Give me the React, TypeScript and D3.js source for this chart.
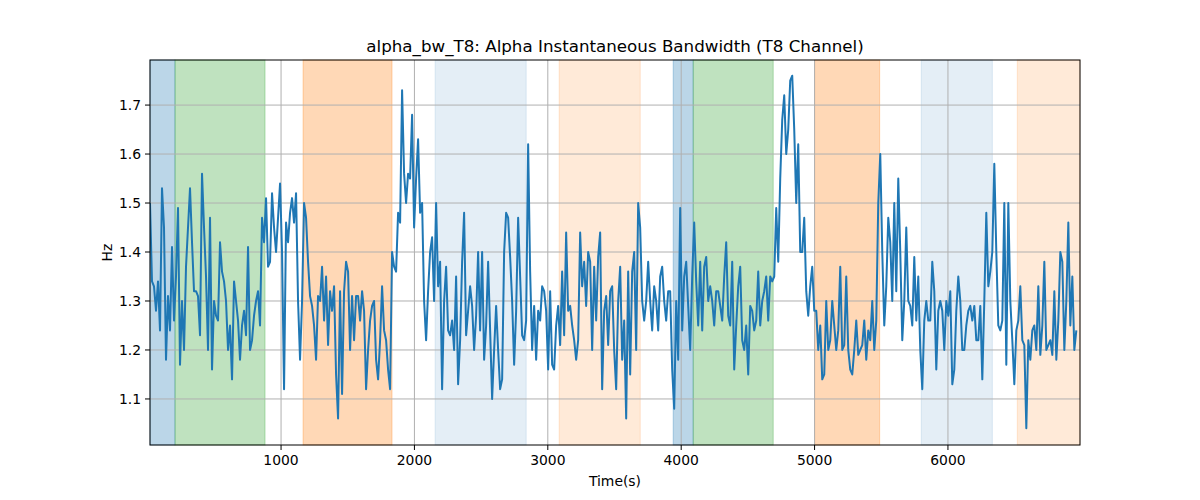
import * as d3 from "d3";

const startTime = 17.5;
const stepSeconds = 15;

// alpha bandwidth, one reading every 15 s
const bandwidth: number[] = [
  1.5, 1.34, 1.33, 1.28, 1.34, 1.24, 1.53, 1.45, 1.18, 1.31, 1.24, 1.41, 1.26, 1.35, 1.49, 1.17, 1.3, 1.2, 1.37, 1.45,
  1.53, 1.42, 1.32, 1.32, 1.31, 1.23, 1.56, 1.45, 1.35, 1.2, 1.47, 1.16, 1.3, 1.27, 1.26, 1.42, 1.36, 1.34, 1.3, 1.2,
  1.25, 1.14, 1.34, 1.3, 1.26, 1.18, 1.25, 1.28, 1.23, 1.41, 1.2, 1.22, 1.27, 1.3, 1.32, 1.25, 1.47, 1.42, 1.51, 1.37,
  1.38, 1.52, 1.45, 1.4, 1.47, 1.54, 1.4, 1.12, 1.46, 1.42, 1.48, 1.51, 1.46, 1.52, 1.3, 1.18, 1.3, 1.5, 1.47, 1.38,
  1.31, 1.29, 1.25, 1.18, 1.31, 1.3, 1.37, 1.26, 1.35, 1.21, 1.32, 1.28, 1.33, 1.15, 1.06, 1.32, 1.11, 1.32, 1.38, 1.36,
  1.2, 1.31, 1.22, 1.31, 1.31, 1.26, 1.32, 1.28, 1.12, 1.2, 1.26, 1.29, 1.3, 1.18, 1.14, 1.22, 1.33, 1.24, 1.22, 1.16,
  1.12,
  1.4, 1.37, 1.36, 1.48, 1.46, 1.73, 1.56, 1.5, 1.56, 1.55, 1.68, 1.45, 1.55, 1.63, 1.48, 1.5, 1.3, 1.22, 1.32, 1.4,
  1.43, 1.3, 1.5, 1.33, 1.38, 1.12, 1.3, 1.37, 1.24, 1.23, 1.26, 1.2, 1.35, 1.13, 1.22, 1.38, 1.48, 1.23, 1.28, 1.33,
  1.29, 1.2, 1.27, 1.4, 1.24, 1.4, 1.18, 1.25, 1.38, 1.24, 1.1, 1.2, 1.29, 1.2, 1.12, 1.14, 1.4, 1.48, 1.47, 1.39,
  1.3, 1.17, 1.28, 1.47, 1.35, 1.23, 1.22, 1.26, 1.62, 1.36, 1.2, 1.29, 1.18, 1.28, 1.26, 1.33, 1.32, 1.28, 1.16, 1.32,
  1.17, 1.16, 1.25, 1.29, 1.21, 1.36, 1.23, 1.44, 1.28, 1.29, 1.25, 1.22, 1.18, 1.22, 1.44, 1.33, 1.38, 1.29, 1.4, 1.38,
  1.2, 1.37, 1.26, 1.39, 1.44, 1.12, 1.28, 1.31, 1.21, 1.32, 1.33, 1.2, 1.12, 1.3, 1.37,
  1.18, 1.26, 1.06, 1.36, 1.15, 1.36, 1.4, 1.2, 1.5, 1.45, 1.3, 1.26, 1.3, 1.38, 1.3, 1.24, 1.33, 1.3, 1.24, 1.35,
  1.37, 1.3, 1.26, 1.32, 1.32, 1.16, 1.08, 1.3, 1.18, 1.49, 1.24, 1.35, 1.38, 1.29, 1.2, 1.35, 1.46, 1.34, 1.25, 1.38,
  1.24, 1.37, 1.39, 1.3, 1.33, 1.3, 1.25, 1.32, 1.32, 1.29, 1.26, 1.35, 1.42, 1.27, 1.25, 1.38, 1.16, 1.25, 1.33, 1.37,
  1.22, 1.2, 1.25, 1.15, 1.29, 1.28, 1.24, 1.26, 1.36, 1.25, 1.3, 1.32, 1.35, 1.26, 1.35, 1.34, 1.35, 1.49, 1.38, 1.55,
  1.67, 1.72, 1.6, 1.65, 1.75, 1.76, 1.65, 1.5, 1.62, 1.4, 1.4, 1.47, 1.32, 1.27, 1.33, 1.37, 1.28, 1.28, 1.2, 1.25,
  1.14, 1.15, 1.3, 1.2, 1.22, 1.3, 1.25, 1.2, 1.24, 1.37, 1.2, 1.21, 1.35, 1.2, 1.16, 1.15, 1.2,
  1.26, 1.19, 1.2, 1.21, 1.26, 1.18, 1.24, 1.22, 1.3, 1.2, 1.26, 1.5, 1.6, 1.4, 1.25, 1.33, 1.47, 1.42, 1.3, 1.5,
  1.32, 1.55, 1.4, 1.22, 1.3, 1.45, 1.3, 1.29, 1.25, 1.39, 1.26, 1.35, 1.2, 1.12, 1.26, 1.3, 1.26, 1.26, 1.38, 1.32,
  1.16, 1.28, 1.3, 1.28, 1.2, 1.3, 1.27, 1.32, 1.13, 1.16, 1.28, 1.35, 1.3, 1.2, 1.2, 1.25, 1.28, 1.29, 1.26, 1.29,
  1.22, 1.22, 1.29, 1.14, 1.3, 1.48, 1.33, 1.36, 1.4, 1.58, 1.4, 1.25, 1.24, 1.26, 1.5, 1.17, 1.5, 1.3, 1.22, 1.13,
  1.24, 1.26, 1.33, 1.22, 1.21, 1.04, 1.22, 1.18, 1.24, 1.25, 1.2, 1.33, 1.19, 1.25, 1.38, 1.2, 1.21, 1.22, 1.19, 1.32,
  1.18, 1.26, 1.4, 1.38, 1.2, 1.3, 1.46, 1.25, 1.35, 1.2, 1.24,
];

// shaded segments: start, end (s) and colour/opacity
const spanStart = [17.5, 205, 1165, 2155, 3085, 3940, 4090, 5000, 5800, 6520];
const spanEnd = [205, 880, 1832, 2838, 3693, 4090, 4690, 5488, 6333, 6990];
const spanColor = ["#1f77b4", "#2ca02c", "#ff7f0e", "#1f77b4", "#ff7f0e", "#1f77b4", "#2ca02c", "#ff7f0e", "#1f77b4", "#ff7f0e"];
const spanAlpha = [0.3, 0.3, 0.3, 0.12, 0.16, 0.3, 0.3, 0.3, 0.12, 0.16];

const xTicks = [1000, 2000, 3000, 4000, 5000, 6000];
const yTicks = [1.1, 1.2, 1.3, 1.4, 1.5, 1.6, 1.7];

export default function App() {
  const width = 1200;
  const height = 500;
  const margin = { top: 60, right: 120, bottom: 55, left: 150 };
  const innerWidth = width - margin.left - margin.right;
  const innerHeight = height - margin.top - margin.bottom;
  const font = "DejaVu Sans, sans-serif";

  const times = bandwidth.map((_, i) => startTime + i * stepSeconds);
  const x = d3.scaleLinear().domain([17.5, 6990]).range([0, innerWidth]);
  const y = d3.scaleLinear().domain([1.006, 1.792]).range([innerHeight, 0]);
  const line = d3
    .line<number>()
    .x((_, i) => x(times[i]))
    .y((d) => y(d));

  return (
    <div style={{ position: "absolute", left: 0, top: 0 }}>
      <svg width={width} height={height} style={{ display: "block", background: "#fff" }} fontFamily={font}>
        <text x={margin.left + innerWidth / 2} y={52} fontSize={16.7} textAnchor="middle" fill="#000">
          alpha_bw_T8: Alpha Instantaneous Bandwidth (T8 Channel)
        </text>
        <g transform={`translate(${margin.left},${margin.top})`}>
          <defs>
            <clipPath id="plot-clip">
              <rect width={innerWidth} height={innerHeight} />
            </clipPath>
          </defs>
          {spanStart.map((s, i) => (
            <rect
              key={`span-${i}`}
              x={x(s)}
              y={0}
              width={x(spanEnd[i]) - x(s)}
              height={innerHeight}
              fill={spanColor[i]}
              fillOpacity={spanAlpha[i]}
              stroke={spanColor[i]}
              strokeOpacity={spanAlpha[i]}
            />
          ))}
          {xTicks.map((t) => (
            <g key={`xt-${t}`}>
              <line x1={x(t)} x2={x(t)} y1={0} y2={innerHeight} stroke="#b0b0b0" strokeWidth={1} />
              <line x1={x(t)} x2={x(t)} y1={innerHeight} y2={innerHeight + 5} stroke="#000" />
              <text x={x(t)} y={innerHeight + 20} fontSize={13.9} textAnchor="middle" fill="#000">
                {t}
              </text>
            </g>
          ))}
          {yTicks.map((t) => (
            <g key={`yt-${t}`}>
              <line x1={0} x2={innerWidth} y1={y(t)} y2={y(t)} stroke="#b0b0b0" strokeWidth={1} />
              <line x1={-5} x2={0} y1={y(t)} y2={y(t)} stroke="#000" />
              <text x={-9} y={y(t) + 5} fontSize={13.9} textAnchor="end" fill="#000">
                {t.toFixed(1)}
              </text>
            </g>
          ))}
          <path
            d={line(bandwidth) ?? ""}
            fill="none"
            stroke="#1f77b4"
            strokeWidth={2}
            strokeLinejoin="round"
            clipPath="url(#plot-clip)"
          />
          <rect width={innerWidth} height={innerHeight} fill="none" stroke="#000" strokeWidth={1} />
          <text x={innerWidth / 2} y={innerHeight + 41} fontSize={13.9} textAnchor="middle" fill="#000">
            Time(s)
          </text>
          <text
            transform={`translate(${-38},${innerHeight / 2}) rotate(-90)`}
            fontSize={13.9}
            textAnchor="middle"
            fill="#000"
          >
            Hz
          </text>
        </g>
      </svg>
    </div>
  );
}
